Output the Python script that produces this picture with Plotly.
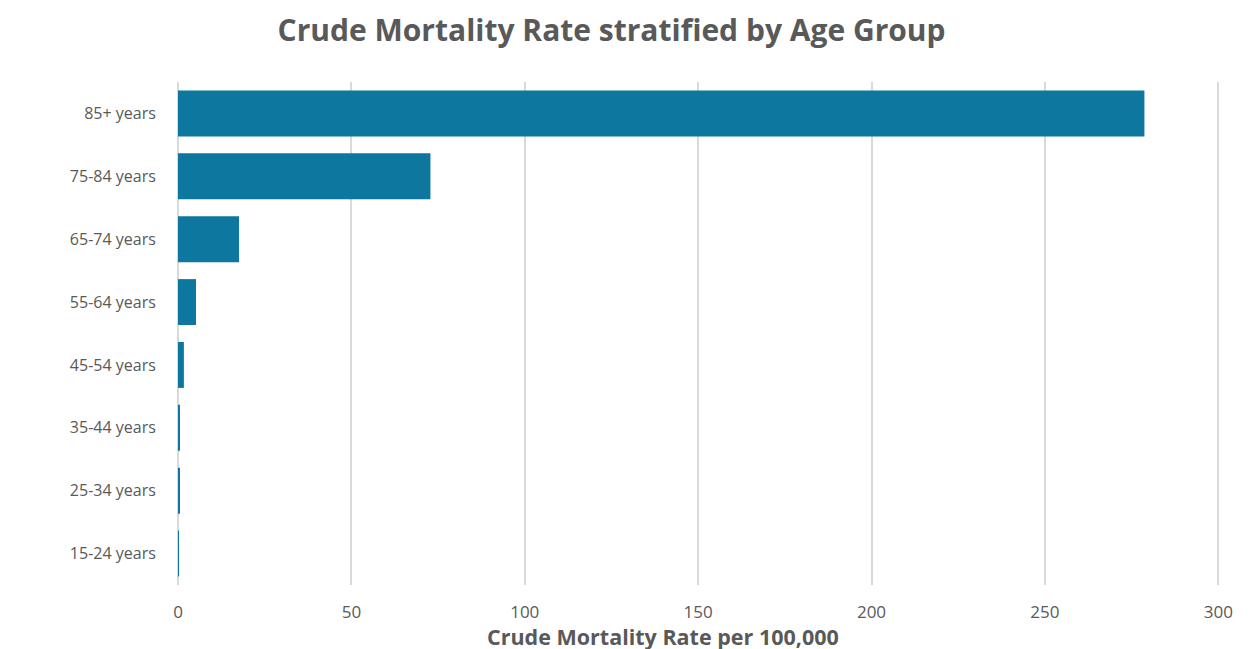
import plotly.graph_objects as go

age_groups = ['15-24 years', '25-34 years', '35-44 years', '45-54 years',
              '55-64 years', '65-74 years', '75-84 years', '85+ years']
crude_rate = [0.2, 0.3, 0.5, 1.7, 5.2, 17.6, 72.8, 278.7]
x_ticks = [0, 50, 100, 150, 200, 250, 300]

bar_color = '#0E77A0'
text_color = '#595959'

fig = go.Figure()
fig.add_trace(go.Bar(
    x=crude_rate,
    y=age_groups,
    orientation='h',
    marker=dict(color=bar_color, line=dict(width=0)),
    hoverinfo='x+y'
))

# page body adds 8px offset, margins compensate
fig.update_layout(
    width=1260, height=649,
    paper_bgcolor='white', plot_bgcolor='white',
    margin=dict(l=170, r=48, t=74, b=72),
    bargap=0.27,
    showlegend=False,
    title=dict(
        text='<b>Crude Mortality Rate stratified by Age Group</b>',
        x=0.479, xanchor='center', y=1 - 22 / 649, yanchor='middle',
        font=dict(family='Open Sans', size=30, color=text_color)
    ),
    font=dict(family='Open Sans', color=text_color),
    xaxis=dict(
        range=[0, 300.5],
        tickvals=x_ticks,
        showgrid=True, gridcolor='#D9D9D9', gridwidth=2,
        zeroline=True, zerolinecolor='#D9D9D9', zerolinewidth=2,
        showline=False,
        ticks='outside', ticklen=12, tickcolor='rgba(0,0,0,0)',
        tickfont=dict(size=17, color=text_color),
    ),
    yaxis=dict(
        showgrid=False, zeroline=False, showline=False,
        ticks='outside', ticklen=18, tickcolor='rgba(0,0,0,0)',
        tickfont=dict(size=16, color=text_color),
    ),
)

# x axis title sits tight under the tick labels, as in the original
fig.add_annotation(
    text='<b>Crude Mortality Rate per 100,000</b>',
    xref='paper', yref='paper', x=0.4655, y=-0.102,
    xanchor='center', yanchor='middle', showarrow=False,
    font=dict(family='Open Sans', size=21.5, color=text_color)
)

fig.write_html('out.html')
